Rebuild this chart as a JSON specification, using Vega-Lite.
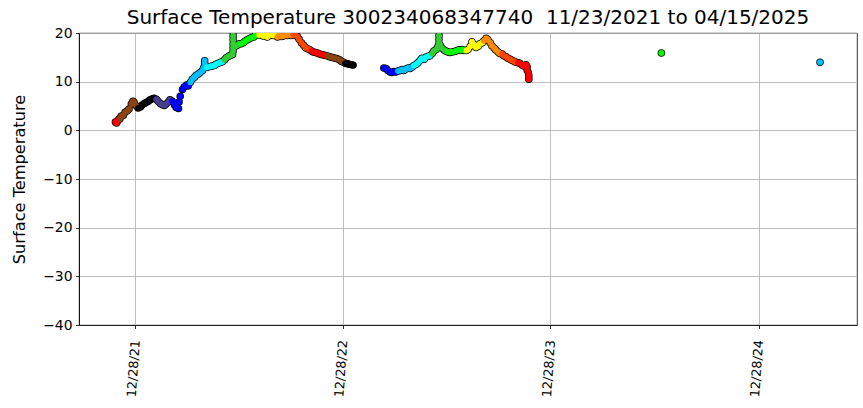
{
  "$schema": "https://vega.github.io/schema/vega-lite/v6.json",
  "width": 778,
  "height": 292,
  "autosize": "none",
  "padding": {"left": 79, "top": 33, "right": 6, "bottom": 83},
  "config": {
    "font": "DejaVu Sans",
    "view": {"stroke": "black", "strokeWidth": 0.8}
  },
  "title": {
    "text": "Surface Temperature 300234068347740\u00a0\u00a011/23/2021 to 04/15/2025",
    "font": "DejaVu Sans",
    "fontSize": 20,
    "fontWeight": "normal",
    "color": "black",
    "anchor": "middle",
    "offset": -2
  },
  "data": {"values": [
    {"d":"2021-11-23","t":1.7},{"d":"2021-11-25","t":1.5},{"d":"2021-11-27","t":1.9},{"d":"2021-11-29","t":2.3},
    {"d":"2021-12-01","t":2.4},{"d":"2021-12-03","t":2.9},{"d":"2021-12-07","t":3.1},{"d":"2021-12-10","t":3.7},
    {"d":"2021-12-14","t":4.0},{"d":"2021-12-17","t":4.4},{"d":"2021-12-21","t":5.4},{"d":"2021-12-24","t":6.0},
    {"d":"2021-12-26","t":5.7},{"d":"2021-12-30","t":5.0},
    {"d":"2022-01-02","t":4.6},{"d":"2022-01-06","t":4.8},{"d":"2022-01-09","t":5.2},{"d":"2022-01-13","t":5.5},
    {"d":"2022-01-16","t":5.7},{"d":"2022-01-20","t":6.0},{"d":"2022-01-23","t":6.3},{"d":"2022-01-27","t":6.5},
    {"d":"2022-01-30","t":6.6},
    {"d":"2022-02-03","t":6.4},{"d":"2022-02-06","t":6.0},{"d":"2022-02-10","t":5.5},{"d":"2022-02-13","t":5.3},
    {"d":"2022-02-17","t":5.1},{"d":"2022-02-20","t":5.4},{"d":"2022-02-24","t":5.8},{"d":"2022-02-27","t":6.3},
    {"d":"2022-03-03","t":6.0},{"d":"2022-03-07","t":5.2},{"d":"2022-03-10","t":4.7},{"d":"2022-03-14","t":4.5},
    {"d":"2022-03-15","t":5.8},{"d":"2022-03-17","t":7.0},{"d":"2022-03-21","t":8.4},{"d":"2022-03-24","t":8.9},
    {"d":"2022-03-28","t":9.3},{"d":"2022-03-31","t":9.1},
    {"d":"2022-04-04","t":9.9},{"d":"2022-04-07","t":10.5},{"d":"2022-04-11","t":10.9},{"d":"2022-04-14","t":11.3},
    {"d":"2022-04-18","t":11.6},{"d":"2022-04-21","t":11.9},{"d":"2022-04-25","t":12.3},{"d":"2022-04-27","t":12.8},
    {"d":"2022-04-29","t":13.0},{"d":"2022-04-29","t":13.7},{"d":"2022-04-29","t":14.3},
    {"d":"2022-05-03","t":12.9},{"d":"2022-05-09","t":13.1},{"d":"2022-05-12","t":13.2},{"d":"2022-05-16","t":13.3},
    {"d":"2022-05-19","t":13.6},{"d":"2022-05-23","t":13.8},{"d":"2022-05-27","t":14.0},{"d":"2022-05-30","t":14.1},
    {"d":"2022-06-03","t":14.5},{"d":"2022-06-06","t":14.9},{"d":"2022-06-10","t":15.2},{"d":"2022-06-13","t":15.4},
    {"d":"2022-06-17","t":15.6},{"d":"2022-06-18","t":16.3},{"d":"2022-06-18","t":17.0},{"d":"2022-06-18","t":17.8},
    {"d":"2022-06-18","t":18.6},{"d":"2022-06-18","t":19.4},{"d":"2022-06-18","t":20.2},
    {"d":"2022-06-22","t":17.3},{"d":"2022-06-25","t":17.5},{"d":"2022-06-29","t":17.8},
    {"d":"2022-07-02","t":17.8},{"d":"2022-07-06","t":18.0},{"d":"2022-07-09","t":18.3},{"d":"2022-07-13","t":18.6},
    {"d":"2022-07-16","t":18.8},{"d":"2022-07-20","t":19.0},{"d":"2022-07-24","t":19.2},{"d":"2022-07-27","t":19.5},
    {"d":"2022-07-31","t":19.7},
    {"d":"2022-08-03","t":19.6},{"d":"2022-08-07","t":19.8},{"d":"2022-08-10","t":19.4},{"d":"2022-08-14","t":19.5},
    {"d":"2022-08-17","t":19.2},{"d":"2022-08-21","t":19.5},{"d":"2022-08-24","t":19.7},{"d":"2022-08-28","t":19.5},
    {"d":"2022-08-31","t":19.6},
    {"d":"2022-09-04","t":19.2},{"d":"2022-09-07","t":19.5},{"d":"2022-09-11","t":19.3},{"d":"2022-09-14","t":19.4},
    {"d":"2022-09-18","t":19.7},{"d":"2022-09-21","t":19.5},{"d":"2022-09-25","t":19.6},{"d":"2022-09-28","t":19.5},
    {"d":"2022-10-02","t":19.7},{"d":"2022-10-05","t":19.6},{"d":"2022-10-09","t":19.3},{"d":"2022-10-12","t":18.7},
    {"d":"2022-10-16","t":18.0},{"d":"2022-10-20","t":17.5},{"d":"2022-10-23","t":17.0},{"d":"2022-10-26","t":16.8},
    {"d":"2022-10-30","t":16.6},
    {"d":"2022-11-03","t":16.3},{"d":"2022-11-06","t":16.1},{"d":"2022-11-10","t":16.0},{"d":"2022-11-13","t":15.9},
    {"d":"2022-11-17","t":15.7},{"d":"2022-11-20","t":15.6},{"d":"2022-11-24","t":15.5},{"d":"2022-11-27","t":15.4},
    {"d":"2022-12-01","t":15.3},{"d":"2022-12-04","t":15.1},{"d":"2022-12-08","t":15.0},{"d":"2022-12-11","t":14.9},
    {"d":"2022-12-15","t":14.8},{"d":"2022-12-18","t":14.7},{"d":"2022-12-22","t":14.5},{"d":"2022-12-25","t":14.2},
    {"d":"2022-12-29","t":14.0},
    {"d":"2023-01-01","t":13.8},{"d":"2023-01-05","t":13.7},{"d":"2023-01-08","t":13.6},{"d":"2023-01-12","t":13.5},
    {"d":"2023-01-15","t":13.4},
    {"d":"2023-03-10","t":12.8},{"d":"2023-03-14","t":12.7},{"d":"2023-03-17","t":12.3},{"d":"2023-03-21","t":12.0},
    {"d":"2023-03-24","t":11.9},{"d":"2023-03-28","t":12.1},{"d":"2023-03-31","t":12.0},
    {"d":"2023-04-04","t":12.2},{"d":"2023-04-07","t":12.3},{"d":"2023-04-11","t":12.5},{"d":"2023-04-14","t":12.3},
    {"d":"2023-04-18","t":12.6},{"d":"2023-04-22","t":12.8},{"d":"2023-04-25","t":12.7},{"d":"2023-04-29","t":13.0},
    {"d":"2023-05-02","t":13.3},{"d":"2023-05-06","t":13.6},{"d":"2023-05-09","t":13.9},{"d":"2023-05-13","t":14.4},
    {"d":"2023-05-16","t":14.8},{"d":"2023-05-20","t":14.6},{"d":"2023-05-23","t":15.0},{"d":"2023-05-27","t":15.2},
    {"d":"2023-05-30","t":15.3},
    {"d":"2023-06-03","t":15.8},{"d":"2023-06-06","t":16.3},{"d":"2023-06-10","t":16.6},{"d":"2023-06-13","t":17.2},
    {"d":"2023-06-15","t":17.9},{"d":"2023-06-15","t":18.7},{"d":"2023-06-15","t":19.5},{"d":"2023-06-17","t":17.5},{"d":"2023-06-20","t":16.9},
    {"d":"2023-06-24","t":16.5},{"d":"2023-06-27","t":16.3},
    {"d":"2023-07-01","t":16.1},{"d":"2023-07-04","t":16.0},{"d":"2023-07-08","t":16.1},{"d":"2023-07-12","t":16.2},
    {"d":"2023-07-15","t":16.3},{"d":"2023-07-19","t":16.5},{"d":"2023-07-22","t":16.5},{"d":"2023-07-26","t":16.6},
    {"d":"2023-07-29","t":16.4},
    {"d":"2023-08-02","t":16.4},{"d":"2023-08-05","t":16.6},{"d":"2023-08-09","t":17.3},{"d":"2023-08-12","t":18.2},
    {"d":"2023-08-16","t":17.6},{"d":"2023-08-19","t":17.0},{"d":"2023-08-23","t":17.3},{"d":"2023-08-26","t":17.8},
    {"d":"2023-08-30","t":18.0},
    {"d":"2023-09-02","t":18.4},{"d":"2023-09-06","t":18.9},{"d":"2023-09-09","t":18.6},{"d":"2023-09-13","t":18.0},
    {"d":"2023-09-16","t":17.4},{"d":"2023-09-20","t":16.9},{"d":"2023-09-23","t":16.5},{"d":"2023-09-27","t":16.1},
    {"d":"2023-09-30","t":15.8},
    {"d":"2023-10-04","t":15.7},{"d":"2023-10-07","t":15.3},{"d":"2023-10-11","t":15.1},{"d":"2023-10-14","t":14.8},
    {"d":"2023-10-18","t":14.6},{"d":"2023-10-21","t":14.4},{"d":"2023-10-25","t":14.2},{"d":"2023-10-28","t":14.0},
    {"d":"2023-11-01","t":13.9},{"d":"2023-11-04","t":13.8},{"d":"2023-11-08","t":13.4},{"d":"2023-11-11","t":13.2},
    {"d":"2023-11-15","t":13.5},{"d":"2023-11-17","t":13.0},{"d":"2023-11-17","t":12.4},{"d":"2023-11-19","t":11.9},
    {"d":"2023-11-20","t":11.2},{"d":"2023-11-20","t":10.5},
    {"d":"2024-07-10","t":15.9},
    {"d":"2025-04-15","t":14.0}
  ]},
  "encoding": {
    "x": {
      "field": "d", "type": "temporal",
      "scale": {"type": "utc", "domain": ["2021-09-20", "2025-06-19"]},
      "axis": {
        "title": null,
        "values": [
          {"year": 2021, "month": 12, "date": 28, "utc": true},
          {"year": 2022, "month": 12, "date": 28, "utc": true},
          {"year": 2023, "month": 12, "date": 28, "utc": true},
          {"year": 2024, "month": 12, "date": 28, "utc": true}
        ],
        "format": "%m/%d/%y",
        "labelAngle": -86,
        "labelFontSize": 12.8,
        "labelColor": "black",
        "labelPadding": 11,
        "grid": true, "gridColor": "#b0b0b0", "gridWidth": 0.8,
        "domainColor": "black", "domainWidth": 0.8,
        "tickColor": "black", "tickWidth": 0.8, "tickSize": 3.5
      }
    },
    "y": {
      "field": "t", "type": "quantitative",
      "scale": {"domain": [-40, 20], "nice": false, "zero": false},
      "axis": {
        "title": "Surface Temperature",
        "titleFontSize": 16.2, "titleFontWeight": "normal", "titleColor": "black", "titlePadding": 15,
        "values": [-40, -30, -20, -10, 0, 10, 20],
        "labelFontSize": 13.9, "labelColor": "black", "labelPadding": 3.5,
        "grid": true, "gridColor": "#b0b0b0", "gridWidth": 0.8,
        "domainColor": "black", "domainWidth": 0.8,
        "tickColor": "black", "tickWidth": 0.8, "tickSize": 3.5
      }
    }
  },
  "layer": [
    {
      "mark": {"type": "circle", "size": 56, "color": "black", "opacity": 1, "clip": true}
    },
    {
      "mark": {"type": "circle", "size": 36, "opacity": 1, "clip": true},
      "encoding": {
        "color": {
          "field": "d", "timeUnit": "utcmonth", "type": "ordinal",
          "scale": {"range": ["#000000", "#483d8b", "#0000ff", "#00bfff", "#00ffff", "#32cd32", "#00ff00", "#ffff00", "#ff8c00", "#ff4500", "#ff0000", "#8b4513"]},
          "legend": null
        }
      }
    }
  ]
}
